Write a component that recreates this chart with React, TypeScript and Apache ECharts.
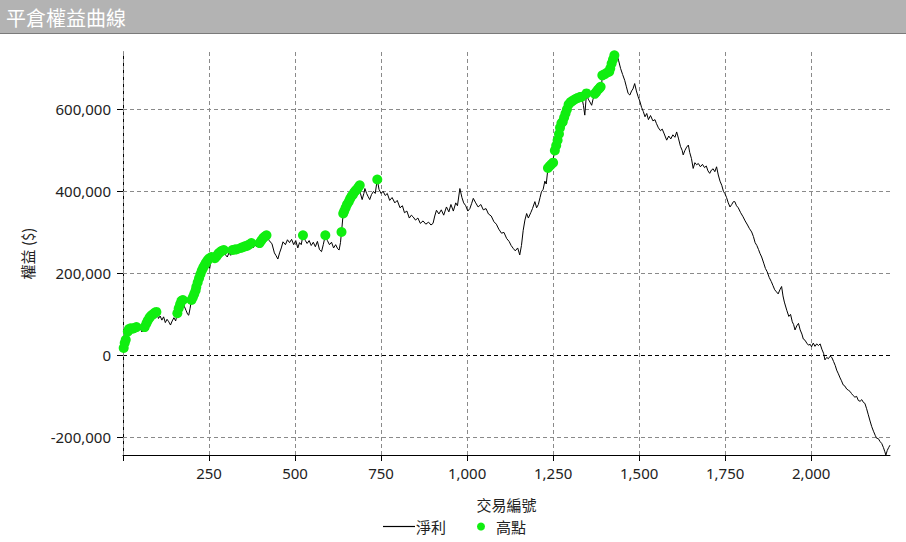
import React, { useEffect, useRef } from "react";
import * as echarts from "echarts";

const chartTitle = "平倉權益曲線";
const xAxisName = "交易編號";
const yAxisName = "權益 ($)";
const seriesNames = ["淨利", "高點"];

const xTicks = [0, 250, 500, 750, 1000, 1250, 1500, 1750, 2000];
const yTicks = [-200000, 0, 200000, 400000, 600000];

// net profit curve: trade number / equity
const tradeNo = [
  0, 5, 10, 17, 22, 28, 33, 39, 45, 50, 55, 60, 65, 72, 78, 85, 92, 97, 103, 108, 113, 118, 123, 128, 133, 138, 143, 148, 153, 158,
  163, 168, 174, 178, 183, 188, 191, 195, 199, 205, 210, 215, 220, 226, 232, 238, 244, 248, 252, 257, 262, 267, 272, 278, 283, 288,
  293, 298, 303, 308, 313, 318, 323, 330, 336, 342, 348, 354, 360, 366, 373, 378, 383, 388, 393, 397, 403, 410, 417, 425, 433, 440,
  445, 450, 455, 460, 465, 472, 478, 484, 490, 496, 502, 508, 513, 518, 523, 530, 535, 541, 547, 553, 559, 565, 571, 577, 582, 588,
  594, 600, 606, 612, 618, 624, 628, 632, 635, 640, 645, 650, 656, 662, 668, 674, 680, 686, 690, 695, 700, 703, 708, 712, 717, 722,
  728, 733, 739, 744, 750, 756, 762, 768, 775, 782, 790, 797, 805, 812, 818, 825, 832, 838, 843, 850, 857, 864, 872, 880, 888, 895,
  901, 906, 911, 918, 925, 932, 940, 947, 953, 960, 967, 972, 979, 985, 990, 996, 1002, 1008, 1013, 1018, 1025, 1032, 1040, 1047,
  1055, 1062, 1070, 1078, 1085, 1092, 1100, 1107, 1115, 1122, 1128, 1134, 1140, 1147, 1153, 1158, 1163, 1168, 1173, 1178, 1185,
  1190, 1197, 1202, 1207, 1212, 1216, 1221, 1226, 1230, 1235, 1240, 1248, 1255, 1262, 1268, 1274, 1279, 1284, 1290, 1294, 1298,
  1305, 1312, 1320, 1327, 1333, 1338, 1342, 1347, 1352, 1357, 1362, 1366, 1371, 1378, 1385, 1389, 1393, 1400, 1407, 1412, 1418,
  1424, 1430, 1434, 1440, 1446, 1452, 1458, 1463, 1468, 1473, 1478, 1482, 1487, 1492, 1497, 1502, 1507, 1512, 1517, 1522, 1527,
  1533, 1540, 1546, 1550, 1556, 1562, 1567, 1573, 1580, 1586, 1592, 1598, 1604, 1609, 1614, 1620, 1625, 1628, 1633, 1638, 1643,
  1647, 1652, 1657, 1662, 1667, 1672, 1678, 1684, 1690, 1695, 1700, 1705, 1710, 1715, 1720, 1725, 1730, 1735, 1740, 1745, 1749,
  1754, 1759, 1764, 1769, 1774, 1778, 1783, 1788, 1795, 1802, 1808, 1815, 1820, 1827, 1832, 1837, 1842, 1847, 1851, 1856, 1862,
  1867, 1872, 1878, 1884, 1889, 1894, 1899, 1904, 1909, 1914, 1918, 1922, 1929, 1935, 1940, 1945, 1949, 1953, 1958, 1963, 1968,
  1973, 1977, 1982, 1987, 1992, 1997, 2001, 2006, 2011, 2016, 2021, 2026, 2031, 2036, 2040, 2045, 2050, 2055, 2060, 2065, 2070,
  2074, 2079, 2084, 2088, 2093, 2098, 2103, 2108, 2113, 2117, 2122, 2127, 2132, 2137, 2142, 2147, 2152, 2156, 2161, 2166, 2171,
  2176, 2181, 2186, 2190, 2195, 2200, 2205, 2210, 2214, 2217, 2221, 2225, 2229,
];
const equity = [
  10000, 25000, 40000, 64000, 50000, 62000, 58000, 69000, 60000, 66000, 57000, 65000, 70000, 80000, 88000, 95000, 102000, 106000,
  90000, 96000, 86000, 94000, 80000, 88000, 82000, 74000, 84000, 92000, 84000, 103000, 115000, 125000, 135000, 120000, 110000,
  100000, 98000, 115000, 135000, 145000, 152000, 168000, 180000, 195000, 208000, 218000, 228000, 222000, 212000, 240000, 228000,
  237000, 240000, 248000, 238000, 252000, 257000, 245000, 240000, 250000, 244000, 257000, 250000, 259000, 252000, 262000, 255000,
  266000, 258000, 270000, 274000, 262000, 270000, 265000, 275000, 274000, 282000, 288000, 293000, 280000, 272000, 250000, 243000,
  235000, 250000, 262000, 277000, 270000, 282000, 275000, 283000, 270000, 280000, 262000, 275000, 270000, 293000, 280000, 273000,
  280000, 268000, 276000, 265000, 278000, 258000, 253000, 270000, 293000, 280000, 270000, 276000, 262000, 270000, 260000, 257000,
  275000, 301000, 346000, 358000, 368000, 378000, 385000, 392000, 400000, 405000, 415000, 395000, 380000, 395000, 407000, 395000,
  388000, 380000, 392000, 400000, 395000, 429000, 405000, 395000, 400000, 390000, 395000, 378000, 385000, 372000, 378000, 360000,
  365000, 348000, 352000, 335000, 342000, 338000, 330000, 335000, 322000, 328000, 320000, 325000, 318000, 322000, 340000, 354000,
  345000, 355000, 342000, 362000, 350000, 368000, 352000, 372000, 365000, 407000, 385000, 372000, 365000, 352000, 358000, 370000,
  383000, 372000, 362000, 368000, 355000, 358000, 345000, 340000, 326000, 320000, 308000, 298000, 300000, 285000, 278000, 268000,
  261000, 255000, 262000, 245000, 268000, 305000, 330000, 346000, 335000, 348000, 358000, 375000, 360000, 368000, 385000, 399000,
  405000, 425000, 418000, 457000, 465000, 470000, 500000, 520000, 545000, 570000, 566000, 585000, 600000, 595000, 610000, 618000,
  622000, 625000, 628000, 631000, 610000, 586000, 639000, 625000, 618000, 610000, 625000, 635000, 648000, 655000, 640000, 683000,
  688000, 692000, 700000, 715000, 728000, 741000, 738000, 720000, 700000, 685000, 671000, 655000, 639000, 635000, 645000, 650000,
  663000, 645000, 631000, 620000, 605000, 595000, 582000, 590000, 575000, 585000, 572000, 575000, 566000, 555000, 548000, 552000,
  540000, 525000, 535000, 528000, 538000, 532000, 545000, 530000, 510000, 500000, 489000, 500000, 508000, 513000, 495000, 480000,
  456000, 470000, 465000, 468000, 460000, 466000, 458000, 462000, 450000, 444000, 452000, 455000, 448000, 460000, 440000, 425000,
  415000, 400000, 395000, 385000, 372000, 362000, 368000, 375000, 375000, 365000, 360000, 348000, 338000, 328000, 318000, 310000,
  301000, 290000, 275000, 268000, 258000, 249000, 240000, 225000, 212000, 204000, 190000, 180000, 170000, 160000, 155000, 150000,
  160000, 168000, 145000, 130000, 110000, 95000, 100000, 82000, 75000, 62000, 72000, 78000, 62000, 52000, 40000, 37000, 30000,
  25000, 27000, 21000, 30000, 22000, 28000, 24000, 28000, 15000, 5000, -11000, -5000, -8000, -2000, -5000, -15000, -25000,
  -36000, -45000, -55000, -62000, -72000, -75000, -82000, -85000, -88000, -93000, -98000, -102000, -100000, -110000, -112000,
  -108000, -115000, -117000, -130000, -145000, -160000, -174000, -185000, -195000, -202000, -203000, -210000, -215000, -225000,
  -235000, -243000, -232000, -225000, -219000,
];

// new equity highs
const highX = [
  2, 5, 8, 14, 17, 22, 28, 33, 39, 63, 68, 72, 77, 82, 87, 92, 97, 158, 162, 166, 170, 174, 199, 203, 207, 211, 213, 217, 221, 225,
  229, 233, 237, 241, 245, 250, 257, 267, 272, 277, 282, 287, 293, 318, 325, 331, 342, 348, 354, 360, 366, 373, 397, 402, 407, 412,
  417, 523, 588, 635, 640, 643, 647, 651, 656, 660, 664, 668, 672, 676, 680, 684, 688, 739, 1235, 1240, 1245, 1250, 1255, 1259,
  1263, 1267, 1270, 1274, 1278, 1282, 1286, 1290, 1295, 1300, 1305, 1310, 1316, 1322, 1328, 1333, 1347, 1371, 1375, 1380, 1385,
  1388, 1393, 1400, 1407, 1413, 1416, 1420, 1424, 1428, 1432,
];
const highY = [
  18000, 30000, 38000, 58000, 64000, 66000, 65000, 67000, 69000, 69000, 78000, 85000, 92000, 97000, 100000, 104000, 106000,
  103000, 115000, 125000, 133000, 135000, 135000, 142000, 150000, 158000, 167000, 178000, 188000, 198000, 207000, 214000, 220000,
  226000, 231000, 236000, 240000, 237000, 242000, 248000, 252000, 255000, 257000, 257000, 258000, 259000, 262000, 264000, 266000,
  267000, 270000, 274000, 274000, 280000, 286000, 290000, 293000, 293000, 293000, 301000, 346000, 352000, 360000, 368000, 375000,
  382000, 388000, 392000, 398000, 402000, 405000, 410000, 415000, 429000, 457000, 462000, 466000, 470000, 500000, 512000, 525000,
  540000, 555000, 566000, 570000, 580000, 590000, 600000, 612000, 617000, 620000, 623000, 626000, 628000, 630000, 631000, 639000,
  638000, 642000, 648000, 652000, 655000, 683000, 686000, 690000, 692000, 700000, 712000, 722000, 732000, 741000,
];

const FONT = "'Noto Sans', 'Noto Sans CJK TC', sans-serif";
const CJK = "'Noto Sans CJK TC', 'Noto Sans', sans-serif";
const GREEN = "#10ee10";

export default function App() {
  const ref = useRef<HTMLDivElement>(null);
  useEffect(() => {
    if (!ref.current) return;
    const chart = echarts.init(ref.current, null, { renderer: "svg" });
    const lineData = tradeNo.map((x, i) => [x, equity[i]]);
    const highData = highX.map((x, i) => [x, highY[i]]);
    const gridColor = "#8a8a8a";
    const markData: any[] = [];
    yTicks.forEach((v) => {
      markData.push({
        yAxis: v,
        lineStyle: { color: v === 0 ? "#000" : gridColor, type: [4, 3], width: 1 },
      });
    });
    xTicks.forEach((v) => {
      markData.push({ xAxis: v, lineStyle: { color: gridColor, type: [4, 3], width: 1 } });
    });
    const fmt = (v: number) => v.toLocaleString("en-US");
    chart.setOption({
      animation: false,
      backgroundColor: "#fff",
      graphic: [
        { type: "rect", shape: { x: 0, y: 0, width: 906, height: 33 }, style: { fill: "#b3b3b3" }, z: 0 },
        { type: "line", shape: { x1: 0, y1: 33.5, x2: 906, y2: 33.5 }, style: { stroke: "#7a7a7a", lineWidth: 1 } },
        {
          type: "text",
          x: 6,
          y: 17,
          style: { text: chartTitle, fill: "#fff", font: `20px ${CJK}`, textVerticalAlign: "middle" },
        },
      ],
      grid: { left: 123, right: 16, top: 52, bottom: 87, containLabel: false },
      xAxis: {
        type: "value",
        min: 0,
        max: 2229,
        name: xAxisName,
        nameLocation: "middle",
        nameGap: 42,
        nameTextStyle: { fontFamily: CJK, fontSize: 15, color: "#222" },
        axisLine: { show: true, onZero: false, lineStyle: { color: "#000", width: 1 } },
        axisTick: { show: true, customValues: xTicks, length: 6, lineStyle: { color: "#000" } },
        axisLabel: {
          customValues: xTicks.slice(1),
          formatter: (v: number) => fmt(v),
          fontFamily: FONT,
          fontSize: 15,
          color: "#222",
          margin: 10,
        },
        splitLine: { show: false },
      },
      yAxis: {
        type: "value",
        min: -243000,
        max: 740000,
        name: yAxisName,
        nameLocation: "middle",
        nameRotate: 90,
        nameGap: 88,
        nameTextStyle: { fontFamily: CJK, fontSize: 15, color: "#222" },
        axisLine: { show: true, onZero: false, lineStyle: { color: "#000", width: 1 } },
        axisTick: { show: true, customValues: yTicks, length: 6, lineStyle: { color: "#000" } },
        axisLabel: {
          customValues: yTicks,
          formatter: (v: number) => fmt(v),
          fontFamily: FONT,
          fontSize: 15,
          color: "#222",
          margin: 12,
        },
        splitLine: { show: false },
      },
      legend: [
        {
          data: [{ name: seriesNames[0], icon: "rect", itemStyle: { color: "#000" } }],
          left: 383,
          top: 519,
          padding: 0,
          itemWidth: 32,
          itemHeight: 1.2,
          itemGap: 4,
          textStyle: { fontFamily: CJK, fontSize: 15, color: "#222", padding: [0, 0, 0, -4] },
          selectedMode: false,
        },
        {
          data: [{ name: seriesNames[1], icon: "circle", itemStyle: { color: GREEN, opacity: 1 } }],
          left: 477,
          top: 519,
          padding: 0,
          itemWidth: 8,
          itemHeight: 8,
          textStyle: { fontFamily: CJK, fontSize: 15, color: "#222", padding: [0, 0, 0, 6] },
          selectedMode: false,
        },
      ],
      series: [
        {
          name: seriesNames[0],
          type: "line",
          data: lineData,
          showSymbol: false,
          lineStyle: { color: "#000", width: 1 },
          itemStyle: { color: "#000" },
          z: 3,
          markLine: {
            silent: true,
            symbol: "none",
            label: { show: false },
            animation: false,
            data: markData,
            z: 1,
          },
        },
        {
          name: seriesNames[1],
          type: "scatter",
          data: highData,
          symbol: "circle",
          symbolSize: 10,
          itemStyle: { color: GREEN, opacity: 1 },
          z: 4,
        },
      ],
    });
    return () => chart.dispose();
  }, []);
  return (
    <div
      ref={ref}
      style={{ position: "absolute", left: 0, top: 0, width: 906, height: 542, background: "#fff" }}
    />
  );
}
